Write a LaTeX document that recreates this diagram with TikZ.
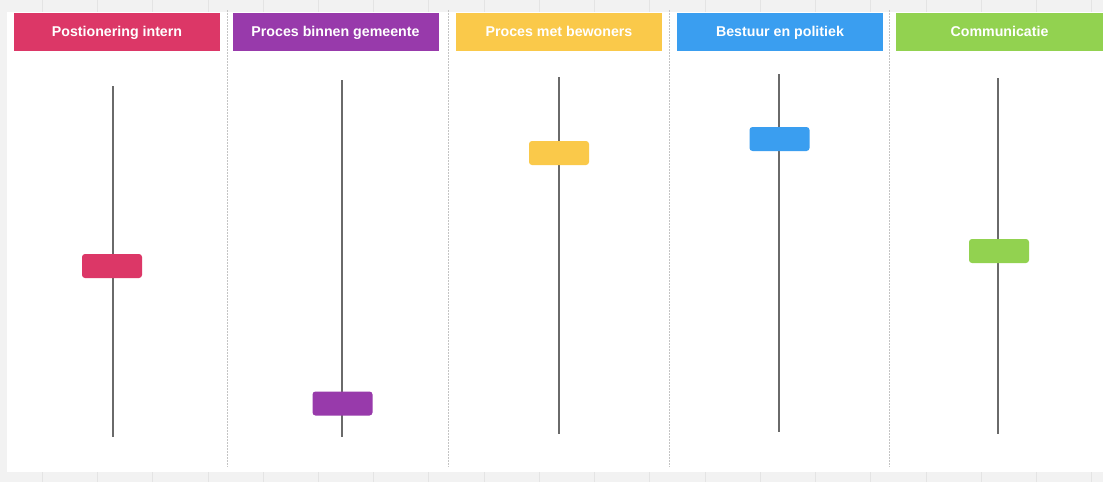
\documentclass[tikz,border=0pt]{standalone}
\usepackage{fontspec}
\setsansfont{Liberation Sans}
\definecolor{pinkred}{HTML}{DC3767}
\definecolor{violet}{HTML}{983AAB}
\definecolor{sunyellow}{HTML}{FAC94A}
\definecolor{skyblue}{HTML}{3A9EF0}
\definecolor{leafgreen}{HTML}{92D250}
\definecolor{canvasgray}{HTML}{F2F2F2}
\definecolor{rulergray}{HTML}{E4E4E4}
\definecolor{sepgray}{HTML}{C4C4C4}
\definecolor{trackgray}{HTML}{6A6A6A}
\tikzset{
  header/.style={fill=#1, text=white, minimum width=206pt, minimum height=38pt,
    inner sep=0pt, text height=11pt, text depth=2pt,
    font=\sffamily\bfseries\fontsize{14.2}{16}\selectfont},
  slider/.style={fill=#1, rounded corners=3pt, minimum width=60pt,
    minimum height=24pt, inner sep=0pt},
  track/.style={draw=trackgray, line width=1.3pt},
  sep/.style={draw=sepgray, line width=0.9pt, dash pattern=on 1.5pt off 1.5pt}
}
\begin{document}
\begin{tikzpicture}[x=1pt,y=-1pt]
      \useasboundingbox (0,0) rectangle (1103,482);
      \fill[canvasgray] (0,0) rectangle (1103,482);
      \foreach \x in {42,97,152,208,263,318,373,428,484,539,594,649,705,760,815,870,926,981,1036,1091}
        {\draw[rulergray, line width=0.8pt] (\x,0) -- (\x,12);
         \draw[rulergray, line width=0.8pt] (\x,472) -- (\x,482);}
      \fill[white] (7,12) rectangle (1103,472);
      \draw[sep] (227,10) -- (227,467);
      \draw[sep] (448.5,10) -- (448.5,467);
      \draw[sep] (669.5,10) -- (669.5,467);
      \draw[sep] (889.5,10) -- (889.5,467);
      \node[header=pinkred] (h1) at (117,32) {Postionering intern};
      \node[header=violet] (h2) at (335.5,32) {Proces binnen gemeente};
      \node[header=sunyellow] (h3) at (559,32) {Proces met bewoners};
      \node[header=skyblue] (h4) at (780,32) {Bestuur en politiek};
      \node[header=leafgreen, minimum width=207pt] (h5) at (999.5,32) {Communicatie};
      \coordinate (t1) at (113,86);  \coordinate (b1) at (113,437);
      \coordinate (t2) at (342,80);  \coordinate (b2) at (342,437);
      \coordinate (t3) at (559,77);  \coordinate (b3) at (559,434);
      \coordinate (t4) at (779,74);  \coordinate (b4) at (779,432);
      \coordinate (t5) at (998,78);  \coordinate (b5) at (998,434);
      \begin{scope}[-]
        \draw[track] (t1) to (b1);
        \draw[track] (t2) to (b2);
        \draw[track] (t3) to (b3);
        \draw[track] (t4) to (b4);
        \draw[track] (t5) to (b5);
      \end{scope}
      \node[slider=pinkred] (s1) at (112,266) {};
      \node[slider=violet] (s2) at (342.5,403.5) {};
      \node[slider=sunyellow] (s3) at (559,153) {};
      \node[slider=skyblue] (s4) at (779.5,139) {};
      \node[slider=leafgreen] (s5) at (999,251) {};
    \end{tikzpicture}
\end{document}
